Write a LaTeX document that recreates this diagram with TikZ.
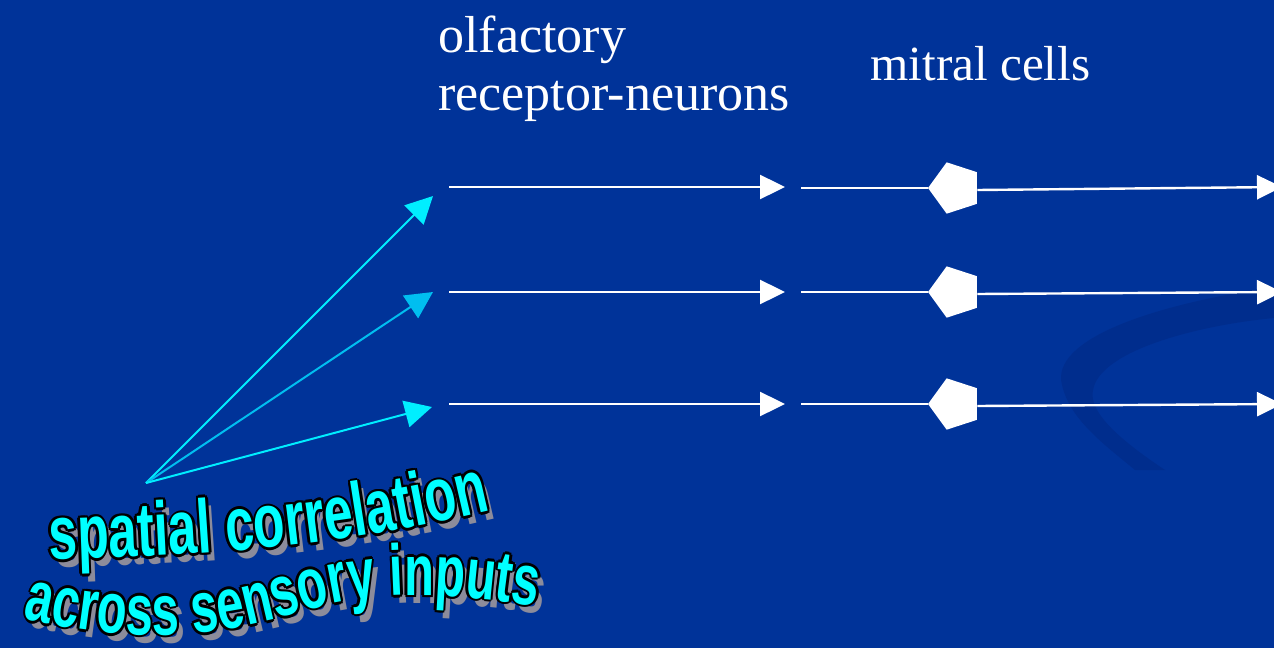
\documentclass[tikz,border=0pt]{standalone}
\usepackage{fontspec}
\setmainfont{Liberation Serif}
\newfontfamily\wordart[FakeStretch=0.68]{Liberation Sans}
\usepackage{tikz}
\usetikzlibrary{arrows.meta, positioning, shapes.geometric, decorations.text}
\definecolor{slideblue}{RGB}{0,51,153}
\definecolor{swoosh}{RGB}{0,45,141}
\definecolor{brightcyan}{RGB}{0,238,255}
\definecolor{skycyan}{RGB}{0,190,240}
\definecolor{wordcyan}{RGB}{0,255,255}
\definecolor{shade}{RGB}{140,140,155}

% wavy outlined banner text: size, baseline path, text
\newcommand\wavetext[3]{%
  \path[shift={(6,8)}, decorate, decoration={text along path, text align=center,
        text={|\wordart\bfseries\fontsize{#1}{#1}\selectfont\color{shade}|#3}}] #2;
  \foreach \dx/\dy in {-2.6/0, 2.6/0, 0/-2.6, 0/2.6, -1.8/-1.8, 1.8/1.8, -1.8/1.8, 1.8/-1.8}
    \path[shift={(\dx,\dy)}, decorate, decoration={text along path, text align=center,
          text={|\wordart\bfseries\fontsize{#1}{#1}\selectfont\color{black}|#3}}] #2;
  \path[decorate, decoration={text along path, text align=center,
        text={|\wordart\bfseries\fontsize{#1}{#1}\selectfont\color{wordcyan}|#3}}] #2;
}

\begin{document}
\begin{tikzpicture}[x=0.5pt, y=-0.5pt,
   heading/.style={text=white, inner sep=0pt, font=\fontsize{26}{29}\selectfont},
   cell/.style={regular polygon, regular polygon sides=5, shape border rotate=90,
                fill=white, inner sep=0pt, minimum size=27pt},
   axon/.style={draw=white, line width=1.2pt, -{Triangle[length=12.5pt, width=12pt]}},
   spike/.style={line width=1pt, -{Triangle[length=13.5pt, width=13.5pt]}}]

  \fill[slideblue] (0,0) rectangle (1274,648);
  \useasboundingbox (0,0) rectangle (1274,648);
  \fill[swoosh] (1274,287) .. controls (1150,305) and (1050,340) .. (1062,385)
        .. controls (1070,420) and (1105,445) .. (1135,470) -- (1165,470)
        .. controls (1120,440) and (1088,412) .. (1093,390)
        .. controls (1100,350) and (1200,325) .. (1274,318) -- cycle;

  \node[heading, anchor=base west, align=left] (orn) at (438,110) {olfactory\\receptor-neurons};
  \node[heading, anchor=base west, font=\fontsize{24.6}{29}\selectfont] (mit) at (870,80) {mitral cells};

  % receptor neurons
  \coordinate (r1) at (449,187);  \coordinate (rt1) at (785,187);
  \coordinate (r2) at (449,292);  \coordinate (rt2) at (785,292);
  \coordinate (r3) at (449,404);  \coordinate (rt3) at (785,404);
  \draw[axon] (r1) -- (rt1);
  \draw[axon] (r2) -- (rt2);
  \draw[axon] (r3) -- (rt3);

  % mitral cells and their outputs
  \coordinate (d1) at (801,188);  \node[cell] (m1) at (955,188) {};  \coordinate (o1) at (1282,187);
  \coordinate (d2) at (801,292);  \node[cell] (m2) at (955,292) {};  \coordinate (o2) at (1282,292);
  \coordinate (d3) at (801,404);  \node[cell] (m3) at (955,404) {};  \coordinate (o3) at (1282,404);
  \draw[white, line width=1.2pt] (d1) -- (m1.west);
  \draw[white, line width=1.2pt] (d2) -- (m2.west);
  \draw[white, line width=1.2pt] (d3) -- (m3.west);
  \draw[axon] ([yshift=-1pt]m1.east) -- (o1);
  \draw[axon] ([yshift=-1pt]m2.east) -- (o2);
  \draw[axon] ([yshift=-1pt]m3.east) -- (o3);

  % correlated inputs
  \coordinate (src) at (146,483);
  \coordinate (t1) at (433,196);
  \coordinate (t2) at (433,292);
  \coordinate (t3) at (432,407);
  \draw[spike, brightcyan] (src) -- (t1);
  \draw[spike, skycyan] (src) -- (t2);
  \draw[spike, brightcyan] (src) -- (t3);

  \wavetext{38}{(40,560) .. controls (200,555) and (330,550) .. (500,508)}{spatial correlation}
  \wavetext{36}{(8,615) .. controls (120,642) and (200,642) .. (300,612) .. controls (360,594) and (430,587) .. (552,609)}{across sensory inputs}
\end{tikzpicture}
\end{document}
